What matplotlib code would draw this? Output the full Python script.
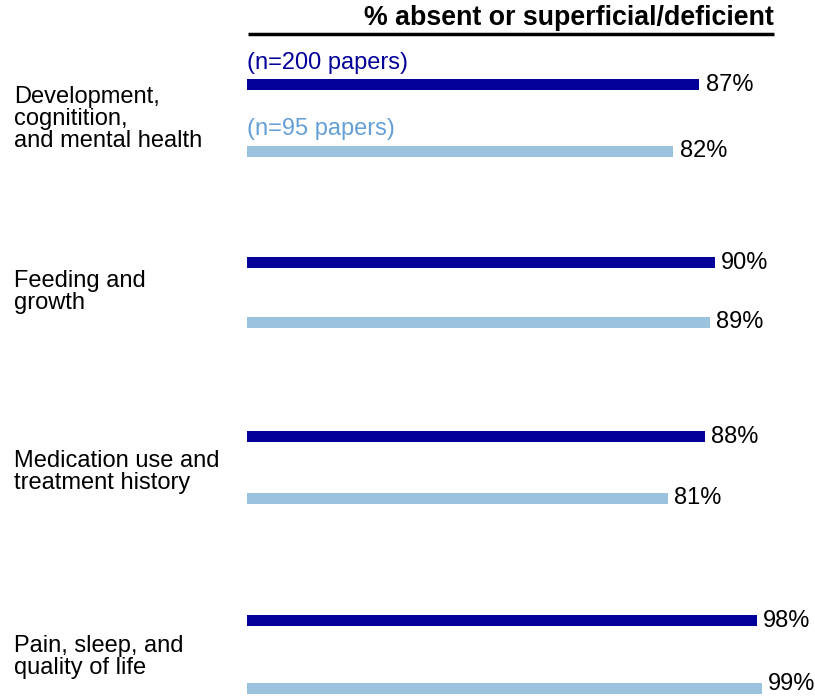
import matplotlib.pyplot as plt
from matplotlib.transforms import blended_transform_factory

categories = ["Development,\ncognitition,\nand mental health",
              "Feeding and\ngrowth",
              "Medication use and\ntreatment history",
              "Pain, sleep, and\nquality of life"]
pct_200 = [87, 90, 88, 98]
pct_95 = [82, 89, 81, 99]
series_labels = ["(n=200 papers)", "(n=95 papers)"]

# layout (pixel rows, y measured from the top)
rows_dark = [84, 262, 436, 620]
rows_light = [151, 322, 498, 688]
label_rows = [119, 292, 472, 657]

dark = "#03009a"
light = "#9bc2df"
light_text = "#64a0d6"

plt.rcParams["font.family"] = ["Liberation Sans", "DejaVu Sans"]

W, H = 815, 697
fig = plt.figure(figsize=(W / 100, H / 100), dpi=100)
ax = fig.add_axes([247 / W, 0, 520 / W, 1])
ax.set_xlim(0, 100)
ax.set_ylim(H, 0)
ax.axis("off")

ax.barh(rows_dark, pct_200, height=11, color=dark, left=0)
ax.barh(rows_light, pct_95, height=11, color=light, left=0)

for y, v in zip(rows_dark, pct_200):
    ax.text(v + 1.2, y + 1, f"{v}%", fontsize=17, va="center", ha="left")
for y, v in zip(rows_light, pct_95):
    # keep the last label inside the picture
    ax.text(v + 1.2, min(y, H - 13), f"{v}%", fontsize=17, va="center", ha="left")

ax.text(0, rows_dark[0] - 21, series_labels[0], color=dark, fontsize=17,
        va="center", ha="left")
ax.text(0, rows_light[0] - 22, series_labels[1], color=light_text, fontsize=17,
        va="center", ha="left")

tr = blended_transform_factory(fig.transFigure, ax.transData)
for y, lab in zip(label_rows, categories):
    ax.text(14 / W, y, lab, transform=tr, fontsize=17, va="center", ha="left",
            linespacing=1.02)

ax.text(101.3, 18, "% absent or superficial/deficient", fontsize=19.3,
        fontweight="bold", ha="right", va="center")
ax.plot([0.2, 101.3], [34, 34], color="black", lw=2.5, clip_on=False,
        solid_capstyle="butt")

fig.savefig("out.png", dpi=100)
